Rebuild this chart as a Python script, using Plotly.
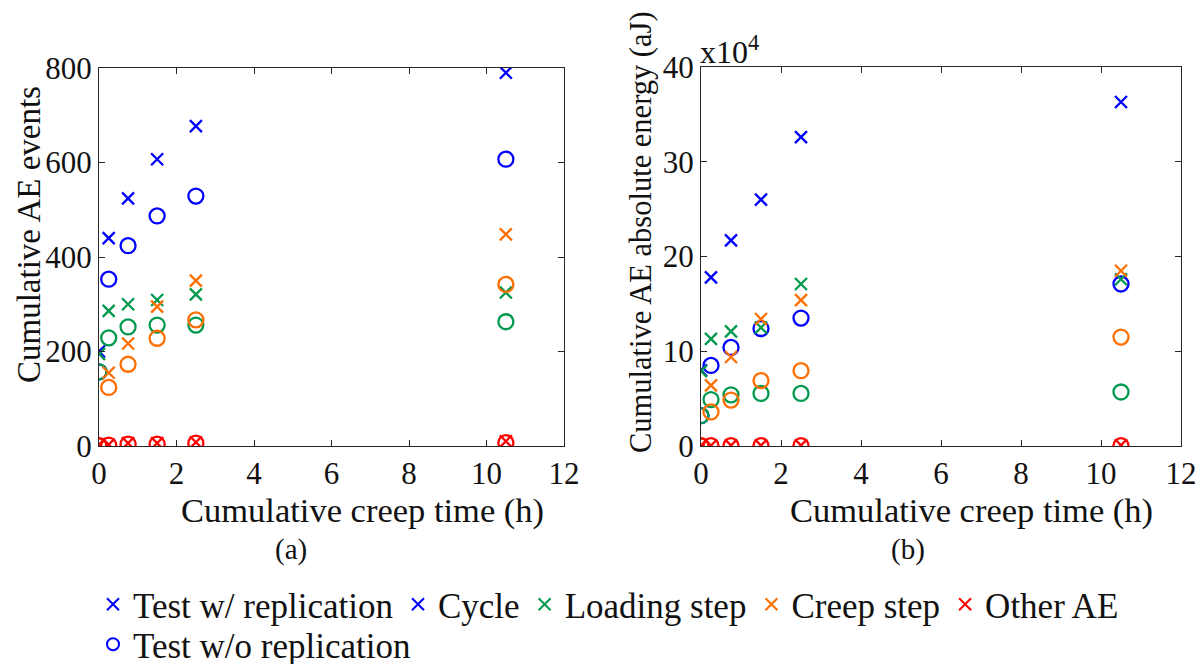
import plotly.graph_objects as go

W, H = 1203, 664
OFF = 8  # default page body margin offsets the figure by 8px

# ---------------- data ----------------
creep_time_h = [0, 0.25, 0.75, 1.5, 2.5, 10.5]

# (a) cumulative AE events
events_cycle_rep = [200, 440, 524, 607, 677, 790]
events_cycle_norep = [157, 353, 424, 487, 529, 607]
events_loading_rep = [195, 286, 300, 309, 321, 325]
events_loading_norep = [157, 229, 252, 256, 256, 263]
events_creep_rep = [0, 155, 217, 295, 350, 448]
events_creep_norep = [0, 124, 173, 228, 267, 342]
events_other_rep = [3, 3, 6, 6, 8, 10]
events_other_norep = [1, 2, 4, 4, 6, 7]

# (b) cumulative AE absolute energy (aJ)
energy_cycle_rep = [80000, 178000, 217000, 260000, 326000, 363000]
energy_cycle_norep = [32000, 85000, 104000, 124000, 135000, 171000]
energy_loading_rep = [79000, 113000, 121000, 125000, 171000, 176000]
energy_loading_norep = [32000, 49000, 54000, 55500, 55500, 57000]
energy_creep_rep = [0, 64000, 94000, 134000, 154000, 185000]
energy_creep_norep = [0, 36000, 48500, 69000, 79500, 115000]
energy_other_rep = [500, 500, 600, 600, 700, 800]
energy_other_norep = [300, 300, 400, 400, 500, 500]

categories = ["Cycle", "Loading step", "Creep step", "Other AE"]
colors = {"Cycle": "#0000FF", "Loading step": "#00994D",
          "Creep step": "#FF6E00", "Other AE": "#FF0000"}

events_rep = {"Cycle": events_cycle_rep, "Loading step": events_loading_rep,
              "Creep step": events_creep_rep, "Other AE": events_other_rep}
events_norep = {"Cycle": events_cycle_norep, "Loading step": events_loading_norep,
                "Creep step": events_creep_norep, "Other AE": events_other_norep}
energy_rep = {"Cycle": energy_cycle_rep, "Loading step": energy_loading_rep,
              "Creep step": energy_creep_rep, "Other AE": energy_other_rep}
energy_norep = {"Cycle": energy_cycle_norep, "Loading step": energy_loading_norep,
                "Creep step": energy_creep_norep, "Other AE": energy_other_norep}

x_ticks = [0, 2, 4, 6, 8, 10, 12]
events_ticks = [0, 200, 400, 600, 800]
energy_ticks = [0, 100000, 200000, 300000, 400000]
energy_ticktext = ["0", "10", "20", "30", "40"]

FONT = "Liberation Serif, Times New Roman, DejaVu Serif, serif"
AX = "#262626"
TXT = "#111111"

fig = go.Figure()

for xa, ya, rep, norep in [("x", "y", events_rep, events_norep),
                           ("x2", "y2", energy_rep, energy_norep)]:
    for c in categories:
        col = colors[c]
        fig.add_trace(go.Scatter(
            x=creep_time_h, y=norep[c], mode="markers", xaxis=xa, yaxis=ya,
            marker=dict(symbol="circle-open", size=15, color=col,
                        line=dict(width=2.3, color=col)),
            showlegend=False, hoverinfo="x+y"))
        fig.add_trace(go.Scatter(
            x=creep_time_h, y=rep[c], mode="markers", xaxis=xa, yaxis=ya,
            marker=dict(symbol="x-thin-open", size=12, color=col,
                        line=dict(width=2.3, color=col)),
            showlegend=False, hoverinfo="x+y"))

# legend-only entries
legend_entries = [("Test w/ replication", "#0000FF", "x-thin-open", "legend"),
                  ("Cycle", colors["Cycle"], "x-thin-open", "legend"),
                  ("Loading step", colors["Loading step"], "x-thin-open", "legend"),
                  ("Creep step", colors["Creep step"], "x-thin-open", "legend"),
                  ("Other AE", colors["Other AE"], "x-thin-open", "legend"),
                  ("Test w/o replication", "#0000FF", "circle-open", "legend2")]
for name, col, sym, lg in legend_entries:
    fig.add_trace(go.Scatter(
        x=[None], y=[None], mode="markers", name=name, legend=lg,
        marker=dict(symbol=sym, color=col, size=10 if sym != "circle-open" else 11,
                    line=dict(width=2, color=col)),
        showlegend=True))


def px_x(p):
    return (p - OFF) / W


def px_y(p):
    return 1 - (p - OFF) / H


axis_common = dict(showgrid=False, zeroline=False, showline=True, linecolor=AX,
                   linewidth=1, mirror="ticks", ticks="inside", ticklen=6,
                   tickcolor=AX, tickwidth=1,
                   tickfont=dict(family=FONT, size=31, color=TXT))

legend_common = dict(orientation="h", xanchor="left", yanchor="top",
                     font=dict(family=FONT, size=35, color=TXT),
                     bgcolor="rgba(0,0,0,0)", itemsizing="constant")

fig.update_layout(
    width=W, height=H, margin=dict(l=0, r=0, t=0, b=0, autoexpand=False),
    paper_bgcolor="white", plot_bgcolor="white",
    font=dict(family=FONT, color=TXT),
    xaxis=dict(domain=[px_x(99), px_x(564)], range=[0, 12], tickvals=x_ticks,
               anchor="y", **axis_common),
    yaxis=dict(domain=[px_y(446), px_y(68)], range=[0, 800], tickvals=events_ticks,
               anchor="x", **axis_common),
    xaxis2=dict(domain=[px_x(701), px_x(1181)], range=[0, 12], tickvals=x_ticks,
                anchor="y2", **axis_common),
    yaxis2=dict(domain=[px_y(446), px_y(67)], range=[0, 400000], tickvals=energy_ticks,
                ticktext=energy_ticktext, anchor="x2", **axis_common),
    legend=dict(x=px_x(93), y=px_y(575), **legend_common),
    legend2=dict(x=px_x(93), y=px_y(615), **legend_common),
    showlegend=True,
)

annotations = [
    dict(text="Cumulative AE events", x=px_x(29), y=px_y(235), textangle=-90, size=33),
    dict(text="Cumulative AE absolute energy (aJ)", x=px_x(641), y=px_y(232),
         textangle=-90, size=30.5),
    dict(text="Cumulative creep time (h)", x=px_x(362), y=px_y(510), size=34.5),
    dict(text="Cumulative creep time (h)", x=px_x(971), y=px_y(510), size=34.5),
    dict(text="(a)", x=px_x(291), y=px_y(549), size=29),
    dict(text="(b)", x=px_x(908), y=px_y(549), size=29),
]
for a in annotations:
    size = a.pop("size")
    fig.add_annotation(xref="paper", yref="paper", showarrow=False,
                       xanchor="center", yanchor="middle",
                       font=dict(family=FONT, size=size, color=TXT), **a)

fig.add_annotation(text="x10<sup>4</sup>", xref="paper", yref="paper",
                   x=px_x(698), y=px_y(72), xanchor="left", yanchor="bottom",
                   showarrow=False, font=dict(family=FONT, size=32, color=TXT))

fig.write_html("out.html")
